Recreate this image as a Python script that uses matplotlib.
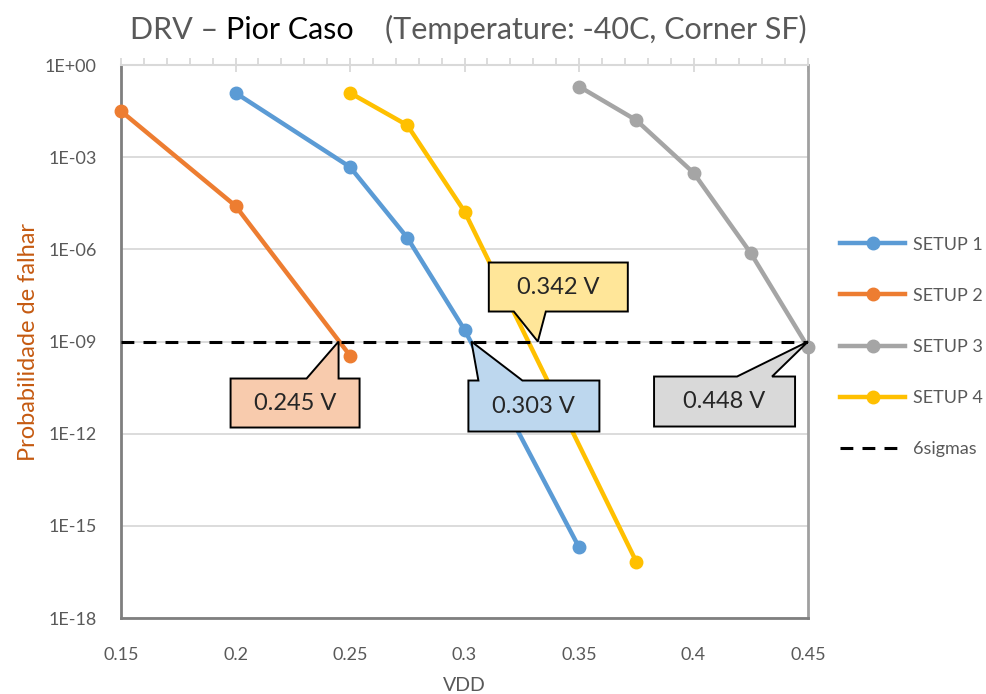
import numpy as np
import matplotlib
matplotlib.use('Agg')
import matplotlib.pyplot as plt
import matplotlib.transforms as mtransforms
from matplotlib.patches import Polygon
from matplotlib.ticker import FixedLocator

plt.rcParams['font.family'] = ['Lato', 'DejaVu Sans']

# data
setup1_x = [0.2, 0.25, 0.275, 0.3, 0.35]
setup1_y = [0.124, 4.8e-4, 2.4e-6, 2.4e-9, 2.0e-16]
setup2_x = [0.15, 0.2, 0.25]
setup2_y = [0.0316, 2.6e-5, 3.5e-10]
setup3_x = [0.35, 0.375, 0.4, 0.425, 0.45]
setup3_y = [0.20, 0.016, 3.1e-4, 7.5e-7, 6.5e-10]
setup4_x = [0.25, 0.275, 0.3, 0.375]
setup4_y = [0.124, 0.011, 1.7e-5, 6.8e-17]
sigma_x = [0.15, 0.45]
sigma_y = [1e-9, 1e-9]

series_names = ['SETUP 1', 'SETUP 2', 'SETUP 3', 'SETUP 4']
series_colors = ['#5B9BD5', '#ED7D31', '#A5A5A5', '#FFC000']

callout_labels = ['0.245 V', '0.303 V', '0.342 V', '0.448 V']
callout_x = [0.245, 0.303, 0.332, 0.45]
callout_y = [1e-9, 1e-9, 1e-9, 1e-9]
callout_colors = ['#F8CBAD', '#BDD7EE', '#FFE699', '#D9D9D9']

# callout outlines, pixel offsets from the pointed-at spot
callout_shapes = [
    [(-108, -37), (-32, -37), (0, 0), (0, -37), (21, -37), (21, -86), (-108, -86)],
    [(-3, -39), (7, -39), (0, 0), (51, -39), (128, -39), (128, -90), (-3, -90)],
    [(-49, 30), (-24, 30), (0, 0), (8, 30), (90, 30), (90, 79), (-49, 79)],
    [(-154, -35), (-71, -35), (0, 0), (-36, -35), (-13, -35), (-13, -85), (-154, -85)],
]
callout_text_pos = [(-43.5, -61.5), (62.5, -64.5), (20.5, 54.5), (-83.5, -60)]

x_ticks = [0.15, 0.2, 0.25, 0.3, 0.35, 0.4, 0.45]
x_tick_labels = ['0.15', '0.2', '0.25', '0.3', '0.35', '0.4', '0.45']
y_ticks = [1e0, 1e-3, 1e-6, 1e-9, 1e-12, 1e-15, 1e-18]
y_tick_labels = ['1E+00', '1E-03', '1E-06', '1E-09', '1E-12', '1E-15', '1E-18']

fig = plt.figure(figsize=(9.87, 6.94), dpi=100)
ax = fig.add_axes([0.1226, 0.1095, 0.6961, 0.7968])

for xs, ys, name, c in zip([setup1_x, setup2_x, setup3_x, setup4_x],
                           [setup1_y, setup2_y, setup3_y, setup4_y],
                           series_names, series_colors):
    ax.plot(xs, ys, color=c, lw=3.2, marker='o', ms=9, label=name,
            clip_on=False, zorder=3)

ax.plot(sigma_x, sigma_y, color='black', lw=2.2, ls=(0, (4.2, 3)),
        label='6sigmas', zorder=4)

ax.set_yscale('log')
ax.set_xlim(0.15, 0.45)
ax.set_ylim(1e-18, 1e0)

ax.set_yticks(y_ticks)
ax.set_yticklabels(y_tick_labels)
ax.yaxis.set_minor_locator(FixedLocator([]))
ax.set_xticks(x_ticks)
ax.set_xticklabels(x_tick_labels)
ax.xaxis.set_minor_locator(FixedLocator(np.arange(0.15, 0.4501, 0.01)))

ax.grid(axis='y', which='major', color='#D9D9D9', lw=1.3)
ax.set_axisbelow(True)

ax.tick_params(axis='x', which='major', bottom=False, top=True, labelbottom=True,
               direction='inout', length=10, width=1.3, color='#D9D9D9',
               labelsize=13, labelcolor='#595959', pad=16)
ax.tick_params(axis='x', which='minor', bottom=False, top=True,
               direction='out', length=5, width=1.3, color='#D9D9D9')
ax.tick_params(axis='y', which='major', left=False, labelsize=13,
               labelcolor='#595959', pad=14)

for side in ['left', 'bottom', 'right']:
    ax.spines[side].set_color('#7F7F7F')
    ax.spines[side].set_linewidth(2)
ax.spines['right'].set_color('#A0A0A0')
ax.spines['top'].set_color('#D9D9D9')
ax.spines['top'].set_linewidth(1.5)

ax.set_xlabel('VDD', fontsize=14, color='#595959', labelpad=10)
ax.set_ylabel('Probabilidade de falhar', fontsize=17, color='#C55A11', labelpad=4)

# callouts anchored at the data point, shape in pixels
for lab, vx, vy, fc, shape, tpos in zip(callout_labels, callout_x, callout_y,
                                        callout_colors, callout_shapes, callout_text_pos):
    trans = fig.dpi_scale_trans + mtransforms.ScaledTranslation(vx, vy, ax.transData)
    verts = np.array(shape) / fig.dpi
    ax.add_patch(Polygon(verts, closed=True, fc=fc, ec='black', lw=1.4,
                         transform=trans, clip_on=False, zorder=6))
    ax.text(tpos[0] / fig.dpi, tpos[1] / fig.dpi, lab, transform=trans,
            ha='center', va='center', fontsize=17, color='#262626', zorder=7)

fig.legend(loc='center left', bbox_to_anchor=(0.835, 0.5), frameon=False,
           fontsize=13, labelcolor='#595959', handlelength=3.6,
           labelspacing=1.95, handletextpad=0.4)

# title with mixed colours
title_parts = ['DRV \u2013 ', 'Pior Caso', '    (Temperature: -40C, Corner SF)']
title_colors = ['#595959', 'black', '#595959']
tx = 130 / 987
fig.canvas.draw()
for part, c in zip(title_parts, title_colors):
    t = fig.text(tx, 0.957, part, fontsize=22, color=c, va='center', ha='left')
    fig.canvas.draw()
    bb = t.get_window_extent()
    tx = bb.x1 / fig.bbox.width

fig.savefig('out.png', dpi=100)
